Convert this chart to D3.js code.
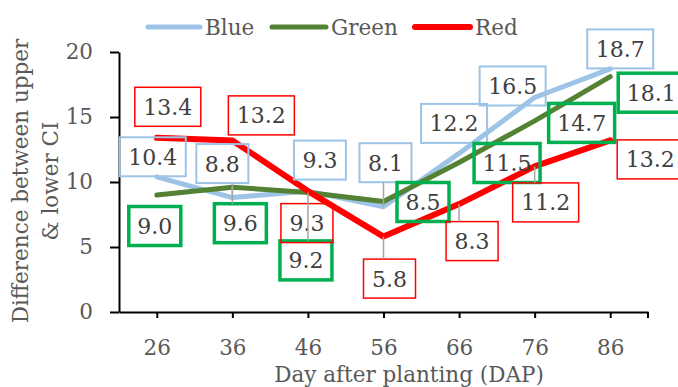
<!DOCTYPE html>
<html>
<head>
<meta charset="utf-8">
<script src="https://cdn.jsdelivr.net/npm/d3@7"></script>
<style>
  html, body { margin: 0; padding: 0; background: #fff; }
  svg { display: block; }
  text { font-family: "DejaVu Serif", serif; }
</style>
</head>
<body>
<svg id="chart" width="678" height="387"></svg>
<script>
// ---- data ----
const categories = ["26", "36", "46", "56", "66", "76", "86"];
const blueValues = [10.4, 8.8, 9.3, 8.1, 12.2, 16.5, 18.7];
const greenValues = [9.0, 9.6, 9.2, 8.5, 11.5, 14.7, 18.1];
const redValues = [13.4, 13.2, 9.3, 5.8, 8.3, 11.2, 13.2];
const seriesNames = ["Blue", "Green", "Red"];
const yTickValues = [0, 5, 10, 15, 20];
const xTitle = "Day after planting (DAP)";
const yTitleLines = ["Difference between upper", "& lower CI"];

// ---- layout (label placement, pixels relative to point) ----
const blueLabelOffsets = [[-4,-20],[-10,-34],[12,-31],[2,-44],[-5,-30],[-22,-11.5],[10,-20]];
const greenLabelOffsets = [[-2,31],[8,36],[-2,68],[39.5,0.5],[48,0.5],[47,2],[41,16]];
const redLabelOffsets = [[11,-31],[29,-25],[-1,32],[6,42],[13,37],[11,36],[40,19]];
const blueLeaders = [0,1,0,1,0,0,0];
const greenLeaders = [0,1,1,0,0,0,0];
const redLeaders = [0,0,0,1,1,1,0];

const series = [
  { name: seriesNames[0], values: blueValues, color: "#9DC3E6", width: 5, box: "#9DC3E6", boxW: 2, offs: blueLabelOffsets, leaders: blueLeaders },
  { name: seriesNames[1], values: greenValues, color: "#548235", width: 5, box: "#00B050", boxW: 3.5, offs: greenLabelOffsets, leaders: greenLeaders },
  { name: seriesNames[2], values: redValues, color: "#FF0000", width: 6, box: "#FF0000", boxW: 1.5, offs: redLabelOffsets, leaders: redLeaders }
];

const svg = d3.select("#chart");
const plotLeft = 119, plotRight = 648, plotTop = 52, plotBottom = 312;

const x = d3.scalePoint().domain(categories).range([plotLeft, plotRight]).padding(0.5);
const y = d3.scaleLinear().domain([0, 20]).range([plotBottom, plotTop]);

// ---- axes ----
const yAxis = svg.append("g").attr("transform", `translate(${plotLeft},0)`)
  .call(d3.axisLeft(y).tickValues(yTickValues).tickSize(9).tickSizeOuter(0).tickPadding(17));
const xAxis = svg.append("g").attr("transform", `translate(0,${plotBottom})`)
  .call(d3.axisBottom(x).tickSize(6).tickSizeOuter(0).tickPadding(22));
xAxis.append("line").attr("x1", plotRight).attr("x2", plotRight).attr("y1", 0).attr("y2", 6);
[yAxis, xAxis].forEach(g => {
  g.selectAll("path.domain").attr("stroke", "#000").attr("stroke-width", 2);
  g.selectAll("line").attr("stroke", "#000").attr("stroke-width", 2);
  g.selectAll("text").attr("fill", "#595959").style("font-size", "21.5px")
    .style("font-family", "DejaVu Serif, serif");
});

// axis titles
svg.append("text").attr("x", 409).attr("y", 382).attr("text-anchor", "middle")
  .attr("fill", "#595959").style("font-size", "21.5px").text(xTitle);
const yt = svg.append("g").attr("transform", "translate(0,181) rotate(-90)");
yTitleLines.forEach((t, i) => {
  yt.append("text").attr("x", 0).attr("y", 28 + i * 30).attr("text-anchor", "middle")
    .attr("fill", "#595959").style("font-size", "21.5px").text(t);
});

// ---- lines ----
const line = d3.line().x((d, i) => x(categories[i])).y(d => y(d));
series.forEach(s => {
  svg.append("path").datum(s.values).attr("d", line)
    .attr("fill", "none").attr("stroke", s.color).attr("stroke-width", s.width)
    .attr("stroke-linejoin", "round").attr("stroke-linecap", "round");
});

// ---- labels ----
const labelLayer = svg.append("g");
const leaderLayer = svg.append("g");
series.forEach(s => {
  s.values.forEach((v, i) => {
    const px = x(categories[i]), py = y(v);
    const cx = px + s.offs[i][0], cy = py + s.offs[i][1];
    const t = labelLayer.append("text").attr("x", cx).attr("y", cy + 8)
      .attr("text-anchor", "middle").attr("fill", "#404040")
      .style("font-size", "22px").text(v.toFixed(1));
    const tw = t.node().getComputedTextLength();
    const w = tw + 17, h = 39;
    labelLayer.insert("rect", "text").attr("x", cx - w / 2).attr("y", cy - h / 2)
      .attr("width", w).attr("height", h).attr("fill", "none")
      .attr("stroke", s.box).attr("stroke-width", s.boxW);
    if (s.leaders[i]) {
      const nx = Math.max(cx - w / 2, Math.min(px, cx + w / 2));
      const ny = Math.max(cy - h / 2, Math.min(py, cy + h / 2));
      leaderLayer.append("line").attr("x1", px).attr("y1", py).attr("x2", nx).attr("y2", ny)
        .attr("stroke", "#A6A6A6").attr("stroke-width", 1.5);
    }
  });
});

// ---- legend ----
const legendPos = [[148, 200, 205], [272, 326, 331], [415, 470, 475]];
series.forEach((s, i) => {
  const [x1, x2, tx] = legendPos[i];
  svg.append("line").attr("x1", x1).attr("x2", x2).attr("y1", 27).attr("y2", 27)
    .attr("stroke", s.color).attr("stroke-width", s.width).attr("stroke-linecap", "round");
  svg.append("text").attr("x", tx).attr("y", 35).attr("fill", "#595959")
    .style("font-size", "21.5px").text(s.name);
});
</script>
</body>
</html>
